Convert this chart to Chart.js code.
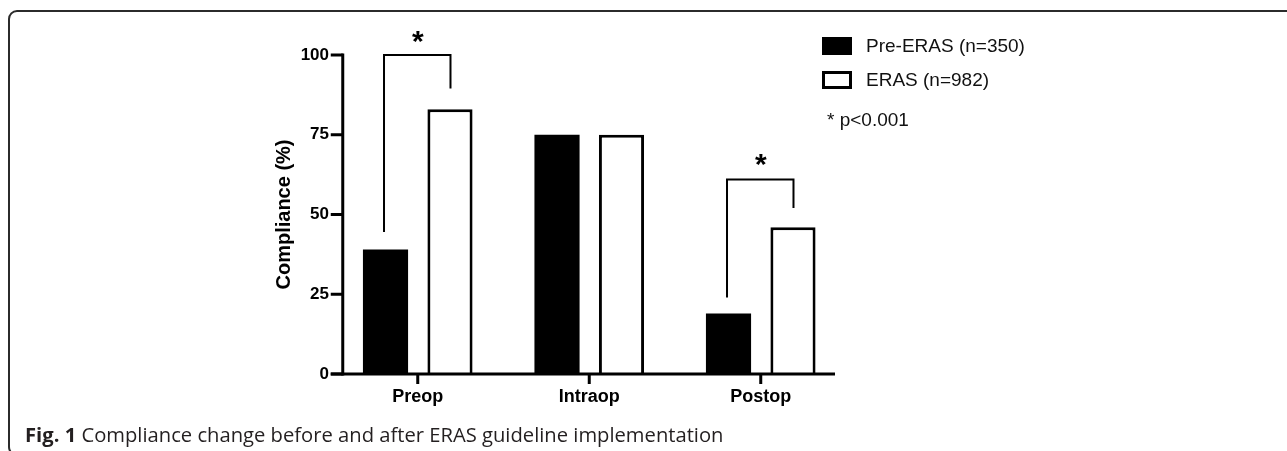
<!DOCTYPE html>
<html>
<head>
<meta charset="utf-8">
<script src="https://cdn.jsdelivr.net/npm/chart.js@4"></script>
<style>
  html, body { margin: 0; padding: 0; background: #fff; }
  #wrap { position: relative; width: 1287px; height: 451px; overflow: hidden; }
  #frame {
    position: absolute; left: 8px; top: 10px; width: 1300px; height: 446px;
    border: 2px solid #2b2b2b; border-radius: 9px; box-sizing: border-box;
  }
  #chart { position: absolute; left: 0; top: 0; }
  #caption {
    position: absolute; left: 25px; top: 424px;
    font-family: "Open Sans", sans-serif; font-size: 20.2px; line-height: 20px; color: #231f20;
    white-space: nowrap;
  }
  #caption b { font-weight: 700; }
</style>
</head>
<body>
<div id="wrap">
  <div id="frame"></div>
  <canvas id="chart" width="1287" height="451"></canvas>
  <div id="caption"><b>Fig. 1</b> Compliance change before and after ERAS guideline implementation</div>
</div>
<script>
// Data
const categories = ['Preop', 'Intraop', 'Postop'];
const preEras = [39, 75, 19];
const eras = [83, 75, 46];
const seriesLabels = ['Pre-ERAS (n=350)', 'ERAS (n=982)'];
const yTicks = [0, 25, 50, 75, 100];
const noteText = '* p<0.001';

// significance brackets (category index, top, left leg end, right leg end, star height)
const bracketCats = [0, 2];
const bracketTop = [100, 61];
const bracketLeftEnd = [44.5, 24];
const bracketRightEnd = [89.5, 52];
const starValue = [106.5, 68];

const ctx = document.getElementById('chart').getContext('2d');

// draws axes, brackets, stars and the legend
const extras = {
    id: 'extras',
    afterDraw(chart) {
        const c = chart.ctx;
        const x = chart.scales.x;
        const y = chart.scales.y;
        const left = x.left + 10.75;
        const right = x.right - 11.5;
        const bottom = y.getPixelForValue(0);
        c.save();
        c.strokeStyle = '#000';
        c.lineWidth = 3;
        c.lineCap = 'butt';
        // y axis
        c.beginPath();
        c.moveTo(left, y.getPixelForValue(100) - 1.5);
        c.lineTo(left, bottom + 1.5);
        c.stroke();
        yTicks.forEach(v => {
            const p = y.getPixelForValue(v);
            c.beginPath();
            c.moveTo(left - 12, p);
            c.lineTo(left, p);
            c.stroke();
        });
        // x axis
        c.beginPath();
        c.moveTo(left - 12, bottom);
        c.lineTo(right, bottom);
        c.stroke();
        categories.forEach((cat, i) => {
            const p = x.getPixelForValue(i);
            c.beginPath();
            c.moveTo(p, bottom);
            c.lineTo(p, bottom + 10);
            c.stroke();
        });

        // brackets
        const m0 = chart.getDatasetMeta(0);
        const m1 = chart.getDatasetMeta(1);
        c.lineWidth = 2;
        bracketCats.forEach((ci, k) => {
            const xl = m0.data[ci].x - 1.5;
            const xr = m1.data[ci].x + 0.5;
            const yt = y.getPixelForValue(bracketTop[k]);
            c.beginPath();
            c.moveTo(xl, y.getPixelForValue(bracketLeftEnd[k]));
            c.lineTo(xl, yt);
            c.lineTo(xr, yt);
            c.lineTo(xr, y.getPixelForValue(bracketRightEnd[k]));
            c.stroke();
            c.fillStyle = '#000';
            c.font = 'bold 30px "Liberation Sans", Arial, sans-serif';
            c.textAlign = 'center';
            c.textBaseline = 'alphabetic';
            c.fillText('*', x.getPixelForValue(ci), y.getPixelForValue(starValue[k]) + 17);
        });

        // legend
        c.font = '19px "Liberation Sans", Arial, sans-serif';
        c.textAlign = 'left';
        c.textBaseline = 'middle';
        const lx = 822, ly = [46, 80];
        chart.data.datasets.forEach((ds, i) => {
            c.fillStyle = '#000';
            c.fillRect(lx, ly[i] - 9, 30, 18);
            if (ds.backgroundColor !== '#000') {
                c.fillStyle = '#fff';
                c.fillRect(lx + 3, ly[i] - 6, 24, 12);
            }
            c.fillStyle = '#111';
            c.fillText(ds.label, lx + 44, ly[i] + 1);
        });
        c.fillText(noteText, 827, 121);
        c.restore();
    }
};

new Chart(ctx, {
    type: 'bar',
    data: {
        labels: categories,
        datasets: [{
            label: seriesLabels[0],
            data: preEras,
            backgroundColor: '#000',
            borderColor: '#000',
            borderWidth: 0,
            categoryPercentage: 0.752,
            barPercentage: 0.7,
        }, {
            label: seriesLabels[1],
            data: eras,
            backgroundColor: '#fff',
            borderColor: '#000',
            borderWidth: 3,
            categoryPercentage: 0.752,
            barPercentage: 0.7,
        }]
    },
    options: {
        responsive: false,
        animation: false,
        events: [],
        layout: {
            padding: { left: 272.8, right: 440.5, top: 55, bottom: 0 }
        },
        plugins: {
            legend: { display: false },
            tooltip: { enabled: false },
        },
        scales: {
            x: {
                grid: { display: false, drawTicks: false },
                border: { display: false },
                ticks: {
                    color: '#000',
                    padding: 12,
                    font: { family: '"Liberation Sans", Arial, sans-serif', size: 18, weight: 'bold' }
                },
                afterFit(scale) { scale.height = 77; }
            },
            y: {
                min: 0,
                max: 100,
                grid: { display: false, drawTicks: false },
                border: { display: false },
                ticks: {
                    stepSize: 25,
                    color: '#000',
                    padding: 3,
                    font: { family: '"Liberation Sans", Arial, sans-serif', size: 17, weight: 'bold' }
                },
                title: {
                    display: true,
                    text: 'Compliance (%)',
                    color: '#000',
                    padding: 0,
                    font: { family: '"Liberation Sans", Arial, sans-serif', size: 20, weight: 'bold' }
                },
                afterFit(scale) { scale.width = 59.2; }
            }
        }
    },
    plugins: [extras]
});
</script>
</body>
</html>
